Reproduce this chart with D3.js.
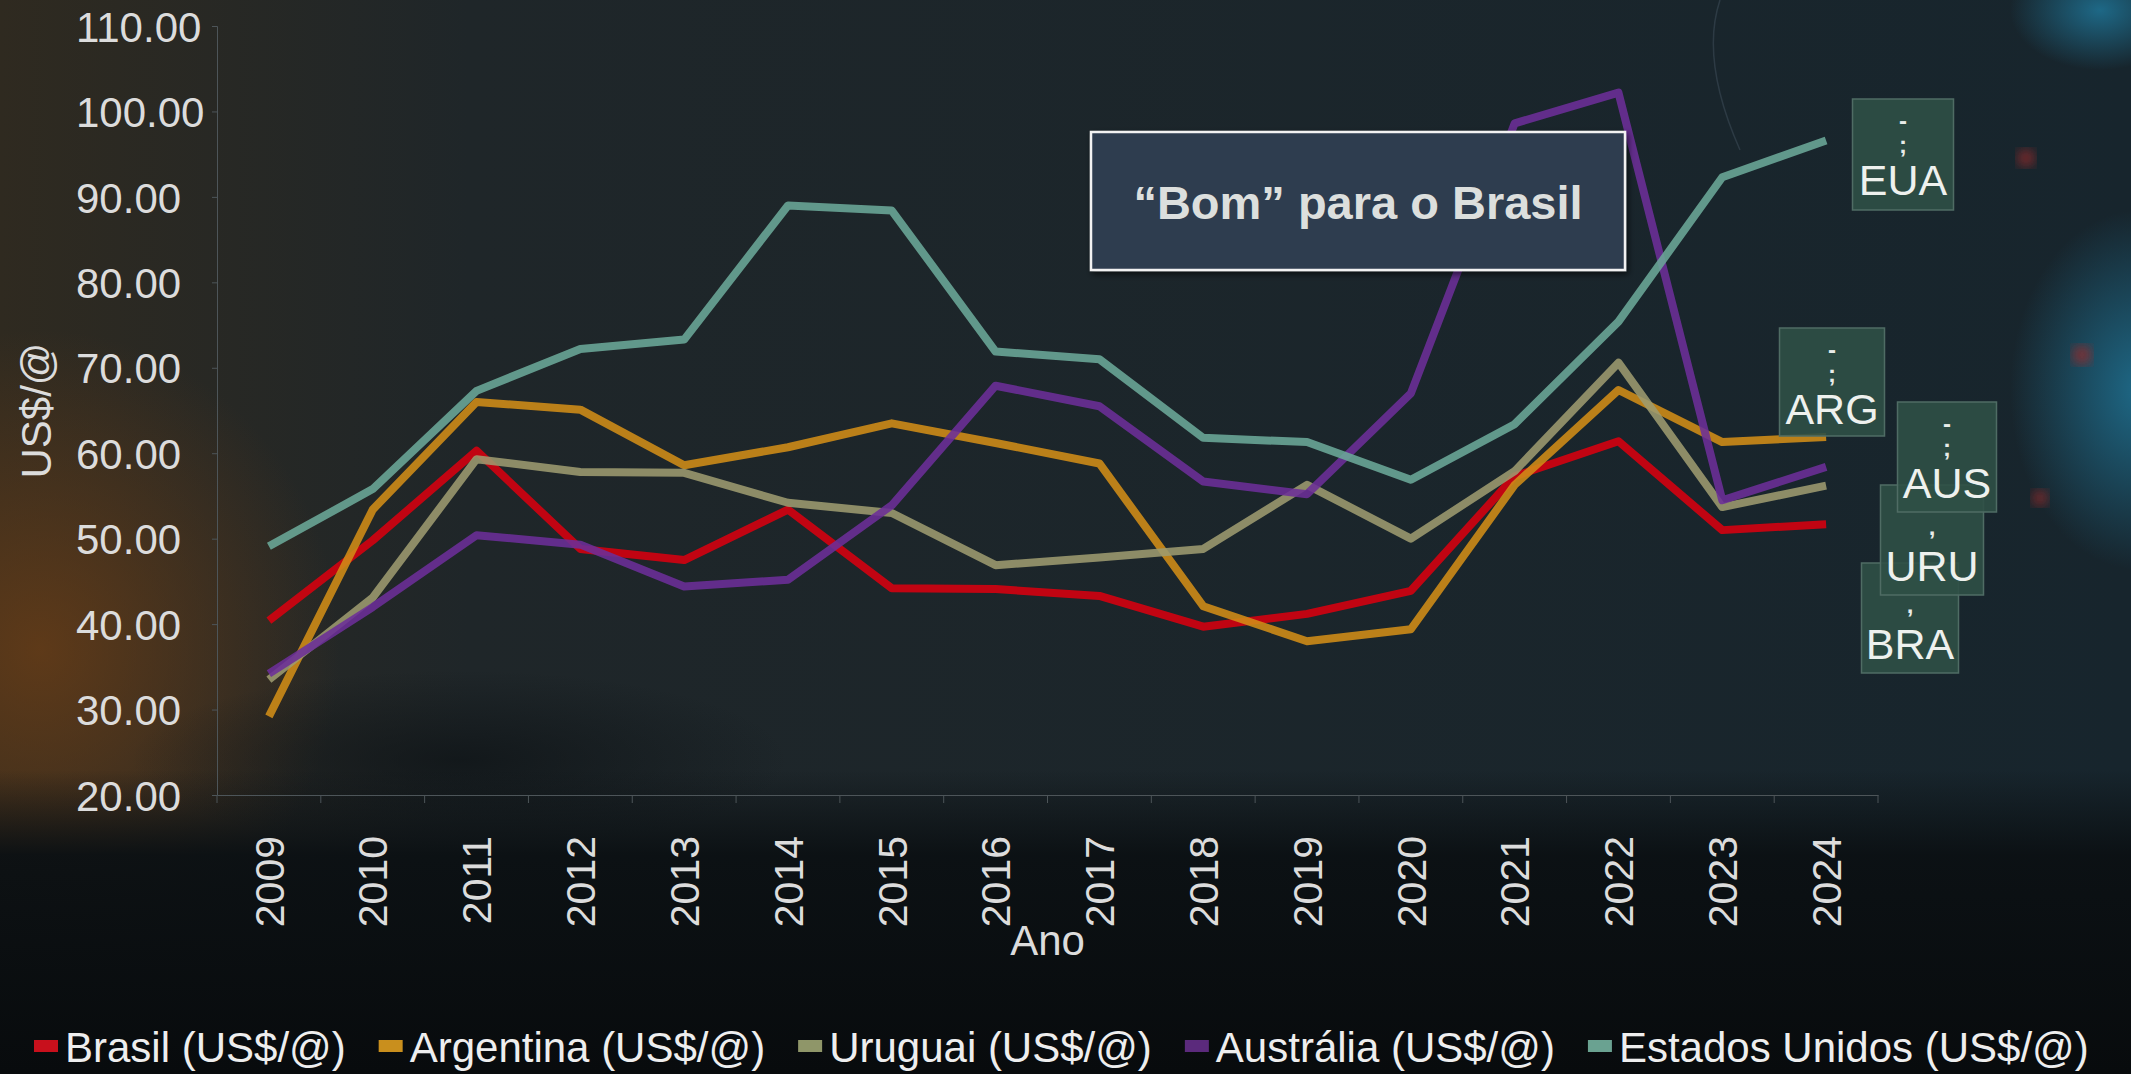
<!DOCTYPE html>
<meta charset="utf-8">
<style>
  body { margin: 0; background: #0b1013; overflow: hidden; }
  svg text { font-family: "Liberation Sans", Arial, sans-serif; }
</style>
<script src="https://d3js.org/d3.v7.min.js"></script>
<svg id="chart" width="2131" height="1074"></svg>
<script>
  // data
  var years = ["2009", "2010", "2011", "2012", "2013", "2014", "2015", "2016",
               "2017", "2018", "2019", "2020", "2021", "2022", "2023", "2024"];
  var brasil    = [40.4, 49.8, 60.3, 48.8, 47.5, 53.4, 44.2, 44.1, 43.3, 39.7, 41.2, 43.9, 57.3, 61.4, 51.0, 51.7];
  var argentina = [29.2, 53.4, 66.0, 65.1, 58.6, 60.7, 63.5, 61.2, 58.8, 42.1, 38.0, 39.4, 56.3, 67.4, 61.3, 61.9];
  var uruguai   = [33.5, 43.1, 59.3, 57.8, 57.7, 54.2, 53.0, 46.9, 47.8, 48.8, 56.3, 50.0, 57.9, 70.6, 53.7, 56.2];
  var australia = [34.2, 42.0, 50.4, 49.3, 44.4, 45.2, 53.9, 67.9, 65.5, 56.7, 55.2, 67.0, 98.6, 102.2, 54.5, 58.4];
  var eua       = [49.1, 55.8, 67.3, 72.2, 73.3, 89.0, 88.4, 71.9, 71.0, 61.8, 61.3, 56.9, 63.4, 75.4, 92.3, 96.6];
  var yTicks = [20, 30, 40, 50, 60, 70, 80, 90, 100, 110];
  var seriesNames = ["Brasil (US$/@)", "Argentina (US$/@)", "Uruguai (US$/@)", "Austrália (US$/@)", "Estados Unidos (US$/@)"];
  var shortNames = ["BRA", "ARG", "URU", "AUS", "EUA"];

  var series = [
    { name: seriesNames[0], short: shortNames[0], values: brasil,    color: "#d8000f", key: "#c8101c" },
    { name: seriesNames[1], short: shortNames[1], values: argentina, color: "#d28d17", key: "#c98f1d" },
    { name: seriesNames[2], short: shortNames[2], values: uruguai,   color: "#9d9b70", key: "#8f9669" },
    { name: seriesNames[3], short: shortNames[3], values: australia, color: "#6c2f98", key: "#5b2a7c" },
    { name: seriesNames[4], short: shortNames[4], values: eua,       color: "#6ba898", key: "#6aa291" }
  ];

  var svg = d3.select("#chart"),
    width = +svg.attr("width"),
    height = +svg.attr("height");

  var margin = { left: 217, right: 253, top: 26, bottom: 279 };
  var plotBottom = height - margin.bottom;

  // ---- background ----
  var defs = svg.append("defs");
  var bgH = defs.append("linearGradient").attr("id", "bgH");
  bgH.append("stop").attr("offset", "0%").attr("stop-color", "#2f2a20");
  bgH.append("stop").attr("offset", "22%").attr("stop-color", "#1f2629");
  bgH.append("stop").attr("offset", "100%").attr("stop-color", "#17252d");

  var glow = defs.append("radialGradient").attr("id", "glow");
  glow.append("stop").attr("offset", "0%").attr("stop-color", "#6e3f16").attr("stop-opacity", 0.75);
  glow.append("stop").attr("offset", "100%").attr("stop-color", "#6e3f16").attr("stop-opacity", 0);

  var shade = defs.append("radialGradient").attr("id", "shade");
  shade.append("stop").attr("offset", "0%").attr("stop-color", "#0d1215").attr("stop-opacity", 0.7);
  shade.append("stop").attr("offset", "100%").attr("stop-color", "#0d1215").attr("stop-opacity", 0);

  var bottomG = defs.append("linearGradient").attr("id", "bottomG")
    .attr("x1", 0).attr("y1", 0).attr("x2", 0).attr("y2", 1);
  bottomG.append("stop").attr("offset", "0%").attr("stop-color", "#0b1013").attr("stop-opacity", 0);
  bottomG.append("stop").attr("offset", "28%").attr("stop-color", "#0b1013").attr("stop-opacity", 0.95);
  bottomG.append("stop").attr("offset", "100%").attr("stop-color", "#080b0d").attr("stop-opacity", 1);

  var blue = defs.append("radialGradient").attr("id", "blue");
  blue.append("stop").attr("offset", "0%").attr("stop-color", "#1f7496").attr("stop-opacity", 0.85);
  blue.append("stop").attr("offset", "100%").attr("stop-color", "#1f7496").attr("stop-opacity", 0);

  defs.append("filter").attr("id", "blur").append("feGaussianBlur").attr("stdDeviation", 6);
  var shadow = defs.append("filter").attr("id", "shadow");
  shadow.append("feDropShadow").attr("dx", 2).attr("dy", 3).attr("stdDeviation", 3)
    .attr("flood-color", "#000").attr("flood-opacity", 0.6);

  svg.append("rect").attr("width", width).attr("height", height).attr("fill", "url(#bgH)");
  svg.append("ellipse").attr("cx", 40).attr("cy", 650).attr("rx", 300).attr("ry", 320).attr("fill", "url(#glow)");
  svg.append("ellipse").attr("cx", 460).attr("cy", 760).attr("rx", 330).attr("ry", 90).attr("fill", "url(#shade)");
  svg.append("ellipse").attr("cx", 2140).attr("cy", 390).attr("rx", 130).attr("ry", 180).attr("fill", "url(#blue)");
  svg.append("ellipse").attr("cx", 2100).attr("cy", 10).attr("rx", 90).attr("ry", 60).attr("fill", "url(#blue)");
  svg.append("rect").attr("y", 770).attr("width", width).attr("height", height - 770).attr("fill", "url(#bottomG)");
  svg.append("path").attr("d", "M1720,0 Q1700,60 1740,150").attr("fill", "none")
    .attr("stroke", "#3a4a55").attr("stroke-width", 1.5).attr("opacity", 0.6);
  [[2026, 158, 9], [2082, 355, 10], [2040, 498, 8]].forEach(function(c) {
    svg.append("circle").attr("cx", c[0]).attr("cy", c[1]).attr("r", c[2])
      .attr("fill", "#9a2b2b").attr("opacity", 0.75).attr("filter", "url(#blur)");
  });

  // ---- scales ----
  var x = d3.scaleBand().domain(years).range([margin.left, width - margin.right]).padding(0);
  var y = d3.scaleLinear().domain([20, 110]).range([plotBottom, margin.top]);
  var cx = function(d) { return x(d) + x.bandwidth() / 2; };

  // ---- axes ----
  var axisColor = "#4d5559";
  var textColor = "#dcdcdc";

  var yAxis = svg.append("g")
    .attr("transform", "translate(" + margin.left + ",0)")
    .call(d3.axisLeft(y).tickValues(yTicks).tickFormat(d3.format(".2f")).tickSize(5));
  yAxis.select(".domain").attr("stroke", axisColor);
  yAxis.selectAll(".tick line").attr("stroke", axisColor);
  yAxis.selectAll(".tick text")
    .attr("text-anchor", "start")
    .attr("x", 76 - margin.left)
    .attr("dy", "0.36em")
    .attr("fill", textColor)
    .style("font-size", "42px");

  var xAxis = svg.append("g")
    .attr("transform", "translate(0," + plotBottom + ")")
    .call(d3.axisBottom(x).tickSize(0).tickPadding(0));
  xAxis.select(".domain").attr("stroke", axisColor);
  xAxis.selectAll(".tick text")
    .attr("transform", "rotate(-90)")
    .attr("text-anchor", "end")
    .attr("x", -41)
    .attr("y", 0)
    .attr("dy", "0.36em")
    .attr("fill", textColor)
    .style("font-size", "41px");
  // category boundary ticks
  xAxis.selectAll(".bound")
    .data(d3.range(years.length + 1))
    .enter().append("line")
    .attr("x1", function(i) { return margin.left + i * x.step(); })
    .attr("x2", function(i) { return margin.left + i * x.step(); })
    .attr("y1", 0).attr("y2", 8)
    .attr("stroke", axisColor);

  svg.append("text")
    .attr("transform", "translate(51," + (y(65)) + ") rotate(-90)")
    .attr("text-anchor", "middle")
    .attr("fill", textColor)
    .style("font-size", "42px")
    .text("US$/@");

  svg.append("text")
    .attr("x", (margin.left + width - margin.right) / 2 + 0)
    .attr("y", 955)
    .attr("text-anchor", "middle")
    .attr("fill", textColor)
    .style("font-size", "42px")
    .text("Ano");

  // ---- lines ----
  var line = d3.line()
    .x(function(d, i) { return cx(years[i]); })
    .y(function(d) { return y(d); });

  svg.append("g").selectAll("path")
    .data(series)
    .enter().append("path")
    .attr("d", function(s) { return line(s.values); })
    .attr("fill", "none")
    .attr("stroke", function(s) { return s.color; })
    .attr("stroke-width", 8)
    .attr("stroke-linejoin", "round")
    .attr("opacity", 0.88);

  // ---- end labels ----
  var labelBoxes = [
    { short: "BRA", cx: 1910, top: 563, w: 97,  h: 110, marks: [","] },
    { short: "URU", cx: 1932, top: 485, w: 103, h: 110, marks: [","] },
    { short: "AUS", cx: 1947, top: 402, w: 99,  h: 110, marks: ["-", ";"] },
    { short: "ARG", cx: 1832, top: 328, w: 105, h: 108, marks: ["-", ";"] },
    { short: "EUA", cx: 1903, top: 99,  w: 101, h: 111, marks: ["-", ";"] }
  ];
  var lb = svg.append("g").selectAll("g")
    .data(labelBoxes)
    .enter().append("g")
    .attr("transform", function(d) { return "translate(" + d.cx + "," + d.top + ")"; });
  lb.append("rect")
    .attr("x", function(d) { return -d.w / 2; })
    .attr("width", function(d) { return d.w; })
    .attr("height", function(d) { return d.h; })
    .attr("fill", "#2f5046")
    .attr("fill-opacity", 0.9)
    .attr("stroke", "#4f6c64")
    .attr("stroke-width", 1.5);
  lb.each(function(d) {
    var g = d3.select(this);
    d.marks.forEach(function(m, i) {
      g.append("text")
        .attr("x", 0)
        .attr("y", d.marks.length === 1 ? 50 : 30 + i * 24)
        .attr("text-anchor", "middle")
        .attr("fill", "#e8ece9")
        .style("font-size", "24px")
        .style("font-weight", "bold")
        .text(m);
    });
  });
  lb.append("text")
    .attr("x", 0)
    .attr("y", 96)
    .attr("text-anchor", "middle")
    .attr("fill", "#eef1ee")
    .style("font-size", "43px")
    .text(function(d) { return d.short; });

  // ---- annotation ----
  var note = svg.append("g");
  note.append("rect")
    .attr("x", 1091).attr("y", 132).attr("width", 534).attr("height", 138)
    .attr("fill", "#2e3d50")
    .attr("stroke", "#f2f2f2").attr("stroke-width", 2.5)
    .attr("filter", "url(#shadow)");
  note.append("text")
    .attr("x", 1358).attr("y", 219)
    .attr("text-anchor", "middle")
    .attr("fill", "#dcdfdd")
    .style("font-size", "47px")
    .style("font-weight", "bold")
    .text("\u201cBom\u201d para o Brasil");

  // ---- legend ----
  var legend = svg.append("g").attr("transform", "translate(0,1046)");
  var lx = 34;
  series.forEach(function(s) {
    legend.append("rect")
      .attr("x", lx).attr("y", -6).attr("width", 24).attr("height", 12)
      .attr("fill", s.key);
    var t = legend.append("text")
      .attr("x", lx + 31).attr("y", 16)
      .attr("fill", "#eeeeee")
      .style("font-size", "42px")
      .text(s.name);
    lx += 31 + t.node().getComputedTextLength() + 33;
  });
</script>
